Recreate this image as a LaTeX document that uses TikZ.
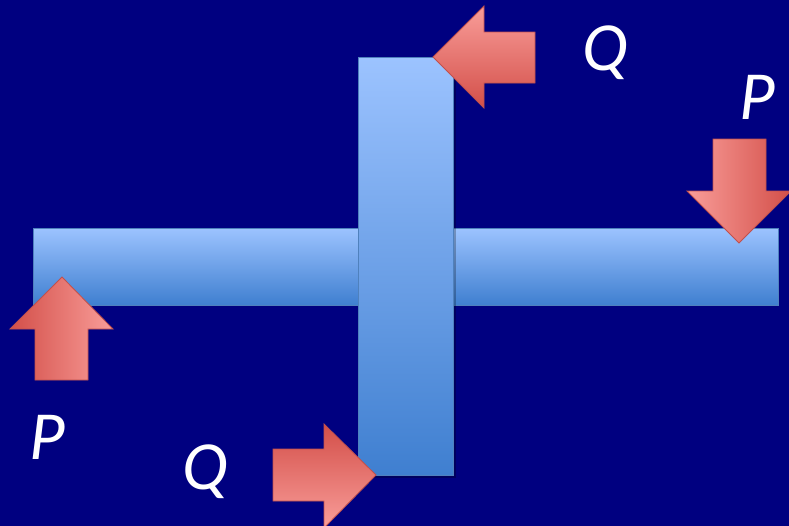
\documentclass[tikz,border=0pt]{standalone}
\usepackage{fontspec}
\setmainfont{Carlito}

\definecolor{fond}{HTML}{000080}
\definecolor{barreclair}{HTML}{9CC3FF}
\definecolor{barrefonce}{HTML}{3F7FD0}
\definecolor{barrebord}{HTML}{4F81BD}
\definecolor{flecheclair}{HTML}{F99D99}
\definecolor{flechefonce}{HTML}{D34F49}
\definecolor{flechebord}{HTML}{C0504D}

\tikzset{
  barre/.style={draw=barrebord, line width=0.6pt},
  fleche/.style={draw=flechebord, line width=0.6pt},
  force/.style={text=white, font=\fontsize{49}{49}\selectfont\itshape}
}

\begin{document}
\begin{tikzpicture}[x=0.025cm,y=-0.025cm]

% Fond
\fill[fond] (0,0) rectangle (789,526);
\useasboundingbox (0,0) rectangle (789,526);

% Barre horizontale
\shade[barre, top color=barreclair, bottom color=barrefonce]
(33,228) rectangle (778,305);

% Barre verticale
\fill[black, opacity=0.25] (361,60) rectangle (456,478);
\shade[barre, top color=barreclair, bottom color=barrefonce]
(358,57) rectangle (453,475);

% Fleche Q haut
\shade[fleche, top color=flecheclair, bottom color=flechefonce]
(433,57)
--
(484,6)
--
(484,32)
--
(535,32)
--
(535,83)
--
(484,83)
--
(484,108)
--
cycle;

\node[force] (qhaut) at (605,53) {Q};

% Fleche P droite
\shade[fleche, left color=flecheclair, right color=flechefonce]
(739,243)
--
(687,191)
--
(713,191)
--
(713,139)
--
(766,139)
--
(766,191)
--
(791,191)
--
cycle;

\node[force] (pdroite) at (757,97) {P};

% Fleche P gauche
\shade[fleche, left color=flechefonce, right color=flecheclair]
(62,277)
--
(113,329)
--
(88,329)
--
(88,380)
--
(35,380)
--
(35,329)
--
(10,329)
--
cycle;

\node[force] (pgauche) at (47,437) {P};

% Fleche Q bas
\shade[fleche, top color=flechefonce, bottom color=flecheclair]
(376,475)
--
(324,424)
--
(324,449)
--
(273,449)
--
(273,501)
--
(324,501)
--
(324,528)
--
cycle;

\node[force] (qbas) at (205,472) {Q};

\end{tikzpicture}
\end{document}
